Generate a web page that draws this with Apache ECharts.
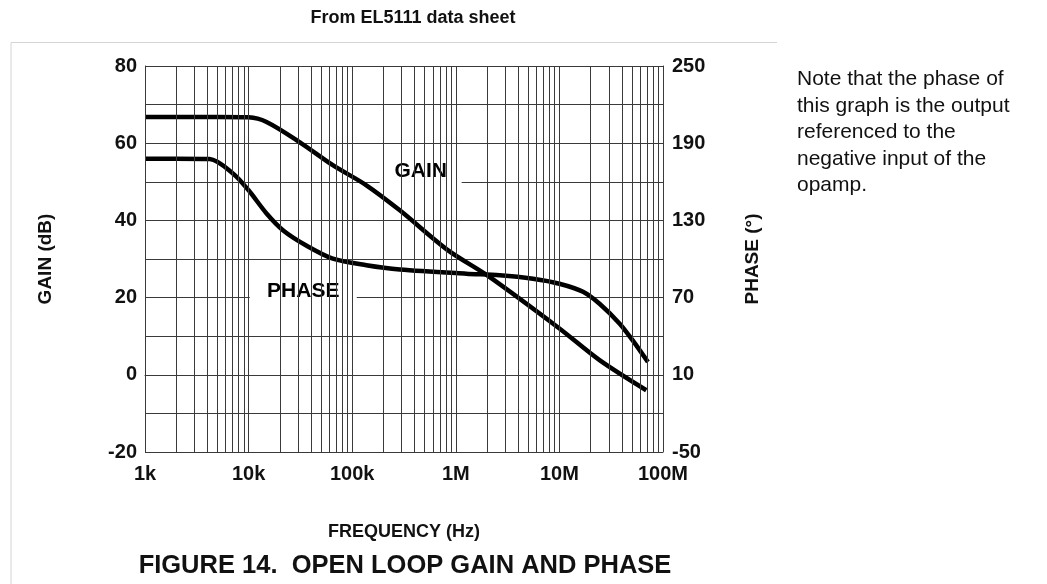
<!DOCTYPE html>
<html><head><meta charset="utf-8">
<script src="https://cdn.jsdelivr.net/npm/echarts@6/dist/echarts.min.js"></script>
<style>html,body{margin:0;padding:0;background:#fff}#c{width:1047px;height:584px}</style>
</head><body><div id="c"></div>
<script>
// ---- data ----
const gainFreq = [1e3, 5e3, 1e4, 1.49e4, 3.1e4, 6.5e4, 1.37e5, 2.88e5, 8.36e5, 2e6, 1e7, 2.44e7, 6.9e7];
const gainDb   = [66.8, 66.8, 66.7, 65.5, 60.3, 54.3, 49.1, 42.6, 32.3, 25.8, 12.0, 3.8, -4.0];
const phaseFreq = [1e3, 2e3, 4.2e3, 7.1e3, 1e4, 1.49e4, 2.16e4, 3.6e4, 6.5e4, 1.37e5, 2.88e5, 1.26e6, 2.65e6, 5.56e6, 1e7, 1.69e7, 2.44e7, 3.8e7, 5.1e7, 7.15e7];
const phaseDeg  = [178, 178, 177.7, 166.3, 153.4, 135.4, 122.2, 110.5, 100.3, 95.2, 91.9, 88.6, 87.4, 84.7, 80.8, 74.5, 65.2, 49.9, 36.7, 19.9];
const xTickValues = [1e3, 1e4, 1e5, 1e6, 1e7, 1e8];
const xTickLabels = ['1k', '10k', '100k', '1M', '10M', '100M'];
const gainTickLabels = [-20, 0, 20, 40, 60, 80];
const phaseTickLabels = [-50, 10, 70, 130, 190, 250];
const curveNames = ['GAIN', 'PHASE'];
const curveLabelAt = [[4.58e5, 52.7], [3.37e4, 21.6]]; // anchor in (Hz, dB)

// ---- derived ----
const minorLines = [];
for (let d = 3; d < 8; d++) for (let m = 1; m <= 9; m++) minorLines.push(m * Math.pow(10, d));
minorLines.push(1e8);
const gainData = gainFreq.map((f, i) => [f, gainDb[i]]);
const phaseData = phaseFreq.map((f, i) => [f, phaseDeg[i]]);
const boxSizes = [[82, 32], [107, 32]];
const FONT = "'Liberation Sans', Arial, Helvetica, sans-serif";
const ink = '#111';
const gridCol = '#3a3a3a';

const chart = echarts.init(document.getElementById('c'), null, {renderer: 'canvas'});
chart.setOption({
  animation: false,
  backgroundColor: '#fff',
  textStyle: {fontFamily: FONT},
  grid: {left: 145, top: 66, right: 384, bottom: 132, containLabel: false},
  xAxis: {
    type: 'log', logBase: 10, min: 1e3, max: 1e8,
    name: 'FREQUENCY (Hz)', nameLocation: 'middle', nameGap: 71,
    nameTextStyle: {fontFamily: FONT, fontWeight: 'bold', fontSize: 18, color: ink},
    axisLine: {show: true, lineStyle: {color: gridCol, width: 1}},
    axisTick: {show: false},
    splitLine: {show: true, lineStyle: {color: gridCol, width: 1}},
    axisLabel: {
      margin: 12, fontFamily: FONT, fontWeight: 'bold', fontSize: 20, color: ink,
      formatter: v => { const i = xTickValues.findIndex(t => Math.abs(t - v) / t < 1e-6); return i >= 0 ? xTickLabels[i] : ''; }
    }
  },
  yAxis: [{
    type: 'value', min: -20, max: 80, interval: 10, position: 'left',
    name: 'GAIN (dB)', nameLocation: 'middle', nameGap: 90, nameRotate: 90,
    nameTextStyle: {fontFamily: FONT, fontWeight: 'bold', fontSize: 19, color: ink},
    axisLine: {show: true, lineStyle: {color: gridCol, width: 1}},
    axisTick: {show: false},
    splitLine: {show: true, lineStyle: {color: gridCol, width: 1}},
    axisLabel: {margin: 8, fontFamily: FONT, fontWeight: 'bold', fontSize: 20, color: ink,
      formatter: v => gainTickLabels.includes(v) ? String(v) : ''}
  }, {
    type: 'value', min: -50, max: 250, interval: 60, position: 'right',
    name: 'PHASE (°)', nameLocation: 'middle', nameGap: 80, nameRotate: 90,
    nameTextStyle: {fontFamily: FONT, fontWeight: 'bold', fontSize: 19, color: ink},
    axisLine: {show: true, lineStyle: {color: gridCol, width: 1}},
    axisTick: {show: false},
    splitLine: {show: false},
    axisLabel: {margin: 9, fontFamily: FONT, fontWeight: 'bold', fontSize: 20, color: ink,
      formatter: v => phaseTickLabels.includes(v) ? String(v) : ''}
  }],
  series: [{
    name: 'grid', type: 'line', data: [], z: 1, silent: true,
    markLine: {
      silent: true, symbol: ['none', 'none'], label: {show: false},
      lineStyle: {color: gridCol, width: 1, type: 'solid'},
      data: minorLines.map(v => ({xAxis: v}))
    }
  }, {
    name: 'labels', type: 'scatter', z: 3, silent: true,
    symbol: 'rect',
    itemStyle: {color: '#fff', opacity: 1},
    data: curveLabelAt.map((p, i) => ({value: p, name: curveNames[i], symbolSize: boxSizes[i]})),
    label: {show: true, position: 'inside', formatter: p => p.name, opacity: 1,
      fontFamily: FONT, fontWeight: 'bold', fontSize: 21, color: '#000'}
  }, {
    name: 'GAIN', type: 'line', z: 4, yAxisIndex: 0, data: gainData,
    showSymbol: false, smooth: 0.3,
    lineStyle: {color: '#000', width: 4.5}
  }, {
    name: 'PHASE', type: 'line', z: 4, yAxisIndex: 1, data: phaseData,
    showSymbol: false, smooth: 0.3,
    lineStyle: {color: '#000', width: 4.5}
  }],
  graphic: [
    {type: 'polyline', silent: true, shape: {points: [[11, 584], [11, 42.5], [777, 42.5]]},
      style: {stroke: '#d4d4d4', lineWidth: 1, fill: null}},
    {type: 'text', silent: true,
      style: {text: 'From EL5111 data sheet', x: 413, y: 18, align: 'center', verticalAlign: 'middle',
        font: "bold 18px " + FONT, fill: ink}},
    {type: 'text', silent: true,
      style: {text: 'FIGURE 14.  OPEN LOOP GAIN AND PHASE', x: 405, y: 566, align: 'center', verticalAlign: 'middle',
        font: "bold 25.5px " + FONT, fill: ink}},
    {type: 'text', silent: true,
      style: {text: 'Note that the phase of\nthis graph is the output\nreferenced to the\nnegative input of the\nopamp.',
        x: 797, y: 66, align: 'left', verticalAlign: 'top', lineHeight: 26.5,
        font: "21px " + FONT, fill: ink}}
  ]
});
</script></body></html>
